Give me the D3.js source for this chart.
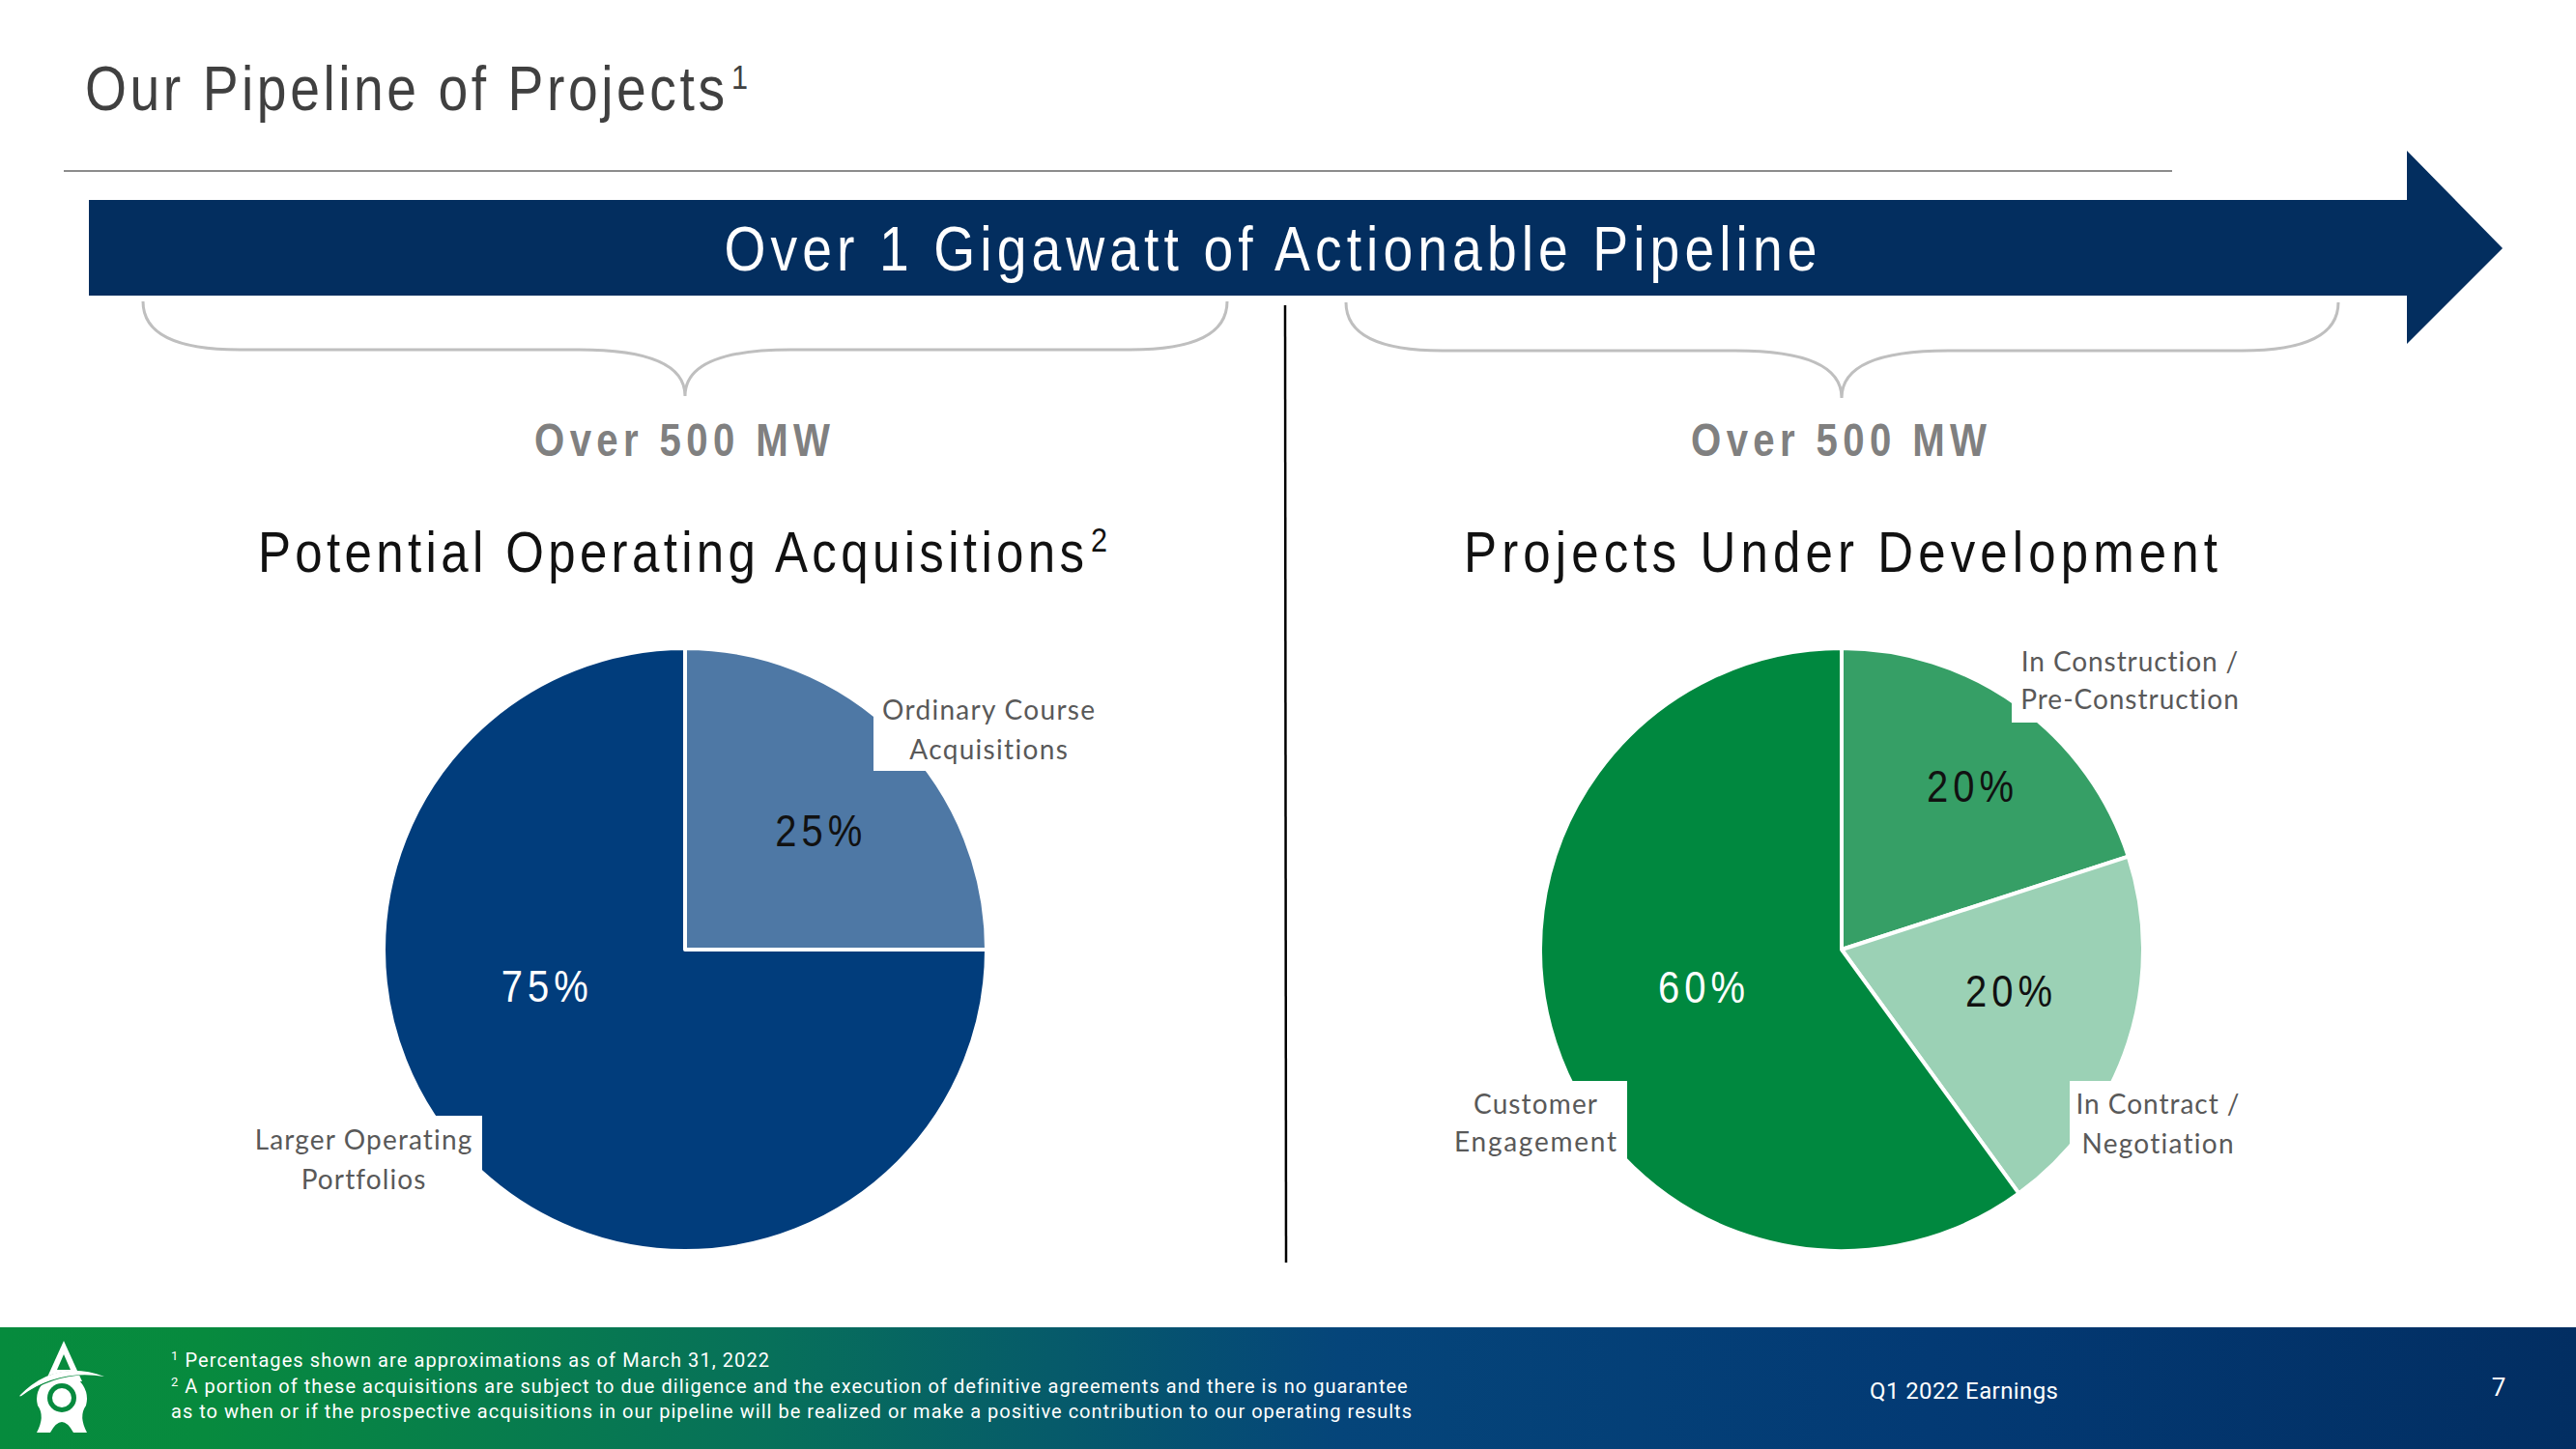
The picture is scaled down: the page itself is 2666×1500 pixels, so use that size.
<!DOCTYPE html>
<html><head><meta charset="utf-8">
<script src="https://cdn.jsdelivr.net/npm/d3@7/dist/d3.min.js"></script>
<style>html,body{margin:0;padding:0;background:#fff;overflow:hidden}</style>
</head><body>
<svg id="chart" width="2666" height="1500" xmlns="http://www.w3.org/2000/svg"></svg>
<script>
// ---------------- DATA ----------------
const slideTitle = "Our Pipeline of Projects";
const slideTitleNote = "1";
const bannerText = "Over 1 Gigawatt of Actionable Pipeline";
const groupCapacity = ["Over 500 MW", "Over 500 MW"];
const chartTitles = ["Potential Operating Acquisitions", "Projects Under Development"];
const chartTitleNotes = ["2", ""];
const leftCategories = [["Ordinary Course", "Acquisitions"], ["Larger Operating", "Portfolios"]];
const leftValues = [25, 75];
const rightCategories = [["In Construction /", "Pre-Construction"], ["In Contract /", "Negotiation"], ["Customer", "Engagement"]];
const rightValues = [20, 20, 60];
const footnotes = [
  ["1", "Percentages shown are approximations as of March 31, 2022"],
  ["2", "A portion of these acquisitions are subject to due diligence and the execution of definitive agreements and there is no guarantee"],
  ["", "as to when or if the prospective acquisitions in our pipeline will be realized or make a positive contribution to our operating results"]
];
const footerLabel = "Q1 2022 Earnings";
const pageNumber = "7";

// ---------------- STYLE / LAYOUT ----------------
const leftColors = ["#4e78a5", "#013d7c"];
const rightColors = ["#369f66", "#9bd1b5", "#00883f"];
const leftPctFill = ["#111111", "#ffffff"];
const rightPctFill = ["#111111", "#111111", "#ffffff"];
const navy = "#032e5f";

const svg = d3.select("#chart");
const defs = svg.append("defs");

const SANS = "'Liberation Sans', Arial, sans-serif";
const HEAD = { family: SANS, sx: 0.85 };
const BOLDHEAD = { family: SANS, sx: 0.82 };
const PCT = { family: SANS, sx: 0.85 };
const LABELF = "Lato, 'Open Sans', sans-serif";
const FOOTF = "Roboto, 'Noto Sans', sans-serif";

function addText(parent, o) {
  const sx = o.sx || 1;
  const g = parent.append("g").attr("transform", `translate(${o.x},${o.y}) scale(${sx},1)`);
  const t = g.append("text").attr("x", 0).attr("y", 0)
    .attr("font-family", o.family).attr("font-size", o.size)
    .attr("font-weight", o.weight || "normal").attr("fill", o.fill)
    .attr("text-anchor", o.anchor || "start").text(o.text);
  if (o.width) {
    const target = o.width / sx;
    const n = [...o.text].length;
    const w = t.node().getComputedTextLength();
    const ls = (target - w) / Math.max(1, n - 1);
    t.attr("letter-spacing", ls);
    if (o.anchor === "middle") t.attr("x", ls / 2);
    if (o.anchor === "end") t.attr("x", ls);
  }
  return t;
}
function head(parent, o, f) { f = f || HEAD; return addText(parent, Object.assign({ family: f.family, sx: f.sx }, o)); }

// ---------------- HEADER ----------------
head(svg, { x: 88, y: 114, text: slideTitle, size: 65, fill: "#404040", width: 662 });
head(svg, { x: 757, y: 92, text: slideTitleNote, size: 36, fill: "#404040" });

svg.append("line").attr("x1", 66).attr("x2", 2248).attr("y1", 177).attr("y2", 177)
  .attr("stroke", "#8c8c8c").attr("stroke-width", 2);

// banner arrow
svg.append("path")
  .attr("d", "M92,207 L2491,207 L2491,156 L2590,257 L2491,356 L2491,306 L92,306 Z")
  .attr("fill", navy);
head(svg, { x: 1315, y: 280, text: bannerText, size: 65, fill: "#ffffff", anchor: "middle", width: 1131 });

// braces
function bracePath(x0, x1, xc, yTop, yMid, yPt) {
  const r1 = 100, r2 = 110;
  return `M${x0},${yTop} Q${x0},${yMid} ${x0 + r1},${yMid} L${xc - r2},${yMid} Q${xc},${yMid} ${xc},${yPt} ` +
         `Q${xc},${yMid} ${xc + r2},${yMid} L${x1 - r1},${yMid} Q${x1},${yMid} ${x1},${yTop}`;
}
svg.append("path").attr("d", bracePath(148, 1270, 709, 312, 362, 410))
  .attr("fill", "none").attr("stroke", "#bfbfbf").attr("stroke-width", 3);
svg.append("path").attr("d", bracePath(1393, 2420, 1906, 313, 363, 412))
  .attr("fill", "none").attr("stroke", "#bfbfbf").attr("stroke-width", 3);

// divider
svg.append("line").attr("x1", 1330).attr("x2", 1331).attr("y1", 316).attr("y2", 1307)
  .attr("stroke", "#000").attr("stroke-width", 2.5);

// group captions
const capLayout = [{ x: 706 }, { x: 1903 }];
groupCapacity.forEach((t, i) => head(svg, { x: capLayout[i].x, y: 472, text: t, size: 49, weight: "bold", fill: "#808080", anchor: "middle", width: 306 }, BOLDHEAD));

// chart titles
const titleLayout = [{ x: 267, w: 855, sup: 1129 }, { x: 1515, w: 780 }];
chartTitles.forEach((t, i) => {
  head(svg, { x: titleLayout[i].x, y: 592, text: t, size: 60, fill: "#111111", width: titleLayout[i].w });
  if (chartTitleNotes[i]) head(svg, { x: titleLayout[i].sup, y: 571, text: chartTitleNotes[i], size: 36, fill: "#111111" });
});

// ---------------- PIES ----------------
const R = 312;
const pie = d3.pie().sort(null).value(d => d);
const arc = d3.arc().innerRadius(0).outerRadius(R);

function drawPie(cx, cy, values, colors, pctFill, pctLayout, boxes, labels, labelLayout) {
  const g = svg.append("g").attr("transform", `translate(${cx},${cy})`);
  const arcs = pie(values);
  g.selectAll("path.slice").data(arcs).join("path").attr("class", "slice")
    .attr("d", arc).attr("fill", (d, i) => colors[i])
    .attr("stroke", "#ffffff").attr("stroke-width", 4).attr("stroke-linejoin", "round");
  // label boxes (white, occluding pie as in original)
  boxes.forEach(b => g.append("rect").attr("x", b[0] - cx).attr("y", b[1] - cy)
    .attr("width", b[2] - b[0]).attr("height", b[3] - b[1]).attr("fill", "#ffffff"));
  // percentage labels
  arcs.forEach((d, i) => {
    const mid = (d.startAngle + d.endAngle) / 2 + pctLayout[i].da * Math.PI / 180;
    const p = d3.pointRadial(mid, pctLayout[i].r);
    head(g, { x: p[0], y: p[1] + 17, text: `${d.data}%`, size: 47, fill: pctFill[i], anchor: "middle", width: 90 }, PCT);
  });
  // category labels
  labels.forEach((lines, i) => {
    const L = labelLayout[i];
    lines.forEach((ln, j) => addText(g, { x: L.x - cx, y: L.y[j] - cy, text: ln, size: 28, family: LABELF, fill: "#595959", anchor: "middle", width: L.w[j] }));
  });
}

drawPie(709, 983, leftValues, leftColors, leftPctFill,
  [{ r: 186, da: 3 }, { r: 150, da: 30.7 }],
  [[904, 700, 1150, 798], [240, 1155, 499, 1252]],
  leftCategories,
  [{ x: 1023, y: [745, 786], w: [220, 164] }, { x: 376, y: [1190, 1231], w: [225, 128] }]);

drawPie(1906, 983, rightValues, rightColors, rightPctFill,
  [{ r: 216, da: 2 }, { r: 178, da: -4.4 }, { r: 150, da: 3.3 }],
  [[2082, 650, 2340, 748], [2142, 1119, 2335, 1215], [1480, 1119, 1684, 1215]],
  rightCategories,
  [{ x: 2204, y: [695, 734], w: [225, 226] }, { x: 2233, y: [1153, 1194], w: [169, 158] }, { x: 1589, y: [1153, 1192], w: [128, 168] }]);

// ---------------- FOOTER ----------------
const grad = defs.append("linearGradient").attr("id", "footGrad").attr("x1", 0).attr("x2", 1).attr("y1", 0).attr("y2", 0);
[[0, "#068b3d"], [0.08, "#078a3e"], [0.3, "#07705a"], [0.52, "#05457a"], [0.75, "#033a74"], [1, "#022e62"]]
  .forEach(s => grad.append("stop").attr("offset", s[0]).attr("stop-color", s[1]));
svg.append("rect").attr("x", 0).attr("y", 1374).attr("width", 2666).attr("height", 126).attr("fill", "url(#footGrad)");

// logo (approximate)
const logoGreen = "#078a3e";
const logo = svg.append("g").attr("fill", "#ffffff");
logo.append("path").attr("d", "M66,1388 L85,1430 L47,1430 Z");
logo.append("path").attr("d", "M66,1402 L73,1418 L59,1418 Z").attr("fill", logoGreen);
logo.append("path").attr("d", "M48,1428 L81,1428 Q93,1440 89,1455 Q81,1466 90,1483 L76,1483 Q64,1461 52,1483 L38,1483 Q47,1466 39,1455 Q35,1440 48,1428 Z");
logo.append("circle").attr("cx", 64).attr("cy", 1447).attr("r", 15).attr("fill", logoGreen);
logo.append("circle").attr("cx", 64).attr("cy", 1447).attr("r", 10);
logo.append("path").attr("d", "M18,1446 Q58,1408 109,1425 Q62,1416 22,1446 Z").attr("stroke", logoGreen).attr("stroke-width", 1.5);
logo.append("path").attr("d", "M20,1445 Q58,1406 108,1425 Q62,1417 20,1445 Z");

// footnotes
const footLayout = [{ y: 1415, w: 619 }, { y: 1442, w: 1279 }, { y: 1468, w: 1284 }];
footnotes.forEach((fn, i) => {
  const t = svg.append("text").attr("x", 177).attr("y", footLayout[i].y)
    .attr("font-family", FOOTF).attr("font-size", 20).attr("fill", "#ffffff");
  if (fn[0]) {
    t.append("tspan").attr("font-size", 13).attr("dy", -7).text(fn[0]);
    t.append("tspan").attr("dy", 7).text(" " + fn[1]);
  } else {
    t.append("tspan").text(fn[1]);
  }
  const n = (fn[0] ? fn[0].length + 1 : 0) + fn[1].length;
  const w = t.node().getComputedTextLength();
  t.attr("letter-spacing", (footLayout[i].w - w) / (n - 1));
});
addText(svg, { x: 1935, y: 1448, text: footerLabel, size: 24, family: FOOTF, fill: "#ffffff", width: 195 });
addText(svg, { x: 2586, y: 1445, text: pageNumber, size: 26, family: FOOTF, fill: "#ffffff", anchor: "middle" });
</script>
</body></html>
